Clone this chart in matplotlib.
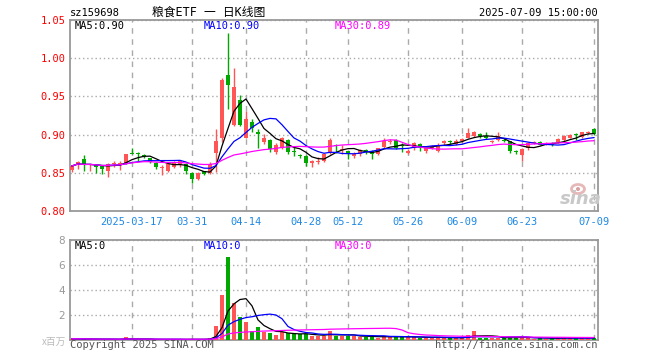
import numpy as np
import pandas as pd
import matplotlib
matplotlib.use("Agg")
import matplotlib.pyplot as plt
from matplotlib.patches import Ellipse

# trading days 2025-03-03 .. 2025-07-09 (exchange holidays removed)
holidays = ["2025-04-04", "2025-05-01", "2025-05-02", "2025-05-05", "2025-06-02"]
dates = pd.bdate_range("2025-03-03", "2025-07-09")
dates = dates[~dates.isin(pd.to_datetime(holidays))]

tick_dates = ["2025-03-17", "2025-03-31", "2025-04-14", "2025-04-28", "2025-05-12",
              "2025-05-26", "2025-06-09", "2025-06-23", "2025-07-09"]
tick_labels = ["2025-03-17", "03-31", "04-14", "04-28", "05-12",
               "05-26", "06-09", "06-23", "07-09"]

opens = [0.854, 0.862, 0.868, 0.860, 0.860, 0.859, 0.853, 0.861, 0.862, 0.862,
         0.876, 0.876, 0.873, 0.869, 0.863, 0.856, 0.852, 0.858, 0.862, 0.862,
         0.850, 0.842, 0.852, 0.850, 0.876, 0.895, 0.978, 0.913, 0.945, 0.896,
         0.916, 0.904, 0.890, 0.893, 0.877, 0.883, 0.893, 0.878, 0.873, 0.872,
         0.863, 0.864, 0.866, 0.876, 0.887, 0.880, 0.878, 0.872, 0.875, 0.879,
         0.879, 0.874, 0.884, 0.890, 0.893, 0.886, 0.876, 0.883, 0.888, 0.879,
         0.883, 0.879, 0.889, 0.892, 0.888, 0.891, 0.896, 0.898, 0.901, 0.898,
         0.890, 0.893, 0.893, 0.891, 0.878, 0.873, 0.883, 0.889, 0.890, 0.888,
         0.889, 0.890, 0.893, 0.896, 0.900, 0.897, 0.902, 0.907]
highs = [0.860, 0.866, 0.873, 0.862, 0.861, 0.860, 0.863, 0.866, 0.865, 0.875,
         0.882, 0.877, 0.875, 0.870, 0.864, 0.860, 0.862, 0.866, 0.866, 0.863,
         0.851, 0.851, 0.853, 0.864, 0.907, 0.974, 1.033, 0.987, 0.952, 0.931,
         0.920, 0.907, 0.901, 0.894, 0.889, 0.897, 0.894, 0.884, 0.875, 0.873,
         0.867, 0.871, 0.876, 0.895, 0.888, 0.887, 0.879, 0.877, 0.881, 0.881,
         0.880, 0.883, 0.896, 0.894, 0.894, 0.889, 0.881, 0.890, 0.889, 0.883,
         0.887, 0.889, 0.893, 0.893, 0.894, 0.896, 0.908, 0.905, 0.902, 0.903,
         0.893, 0.903, 0.896, 0.892, 0.880, 0.883, 0.890, 0.891, 0.891, 0.890,
         0.890, 0.895, 0.899, 0.901, 0.902, 0.904, 0.905, 0.908]
lows = [0.851, 0.855, 0.852, 0.853, 0.850, 0.849, 0.844, 0.857, 0.854, 0.861,
        0.874, 0.866, 0.869, 0.863, 0.855, 0.847, 0.851, 0.856, 0.857, 0.848,
        0.837, 0.841, 0.847, 0.849, 0.851, 0.890, 0.933, 0.911, 0.911, 0.895,
        0.904, 0.882, 0.888, 0.877, 0.874, 0.881, 0.875, 0.872, 0.869, 0.859,
        0.857, 0.862, 0.864, 0.874, 0.876, 0.875, 0.868, 0.870, 0.872, 0.875,
        0.868, 0.873, 0.883, 0.888, 0.881, 0.877, 0.874, 0.880, 0.879, 0.876,
        0.881, 0.877, 0.887, 0.888, 0.887, 0.890, 0.895, 0.897, 0.895, 0.894,
        0.889, 0.892, 0.890, 0.876, 0.875, 0.866, 0.880, 0.888, 0.886, 0.887,
        0.885, 0.889, 0.892, 0.895, 0.893, 0.896, 0.901, 0.900]
closes = [0.859, 0.864, 0.860, 0.861, 0.858, 0.855, 0.861, 0.863, 0.863, 0.874,
          0.875, 0.874, 0.872, 0.864, 0.857, 0.857, 0.861, 0.864, 0.865, 0.852,
          0.842, 0.850, 0.849, 0.862, 0.892, 0.972, 0.965, 0.962, 0.913, 0.921,
          0.909, 0.901, 0.896, 0.881, 0.886, 0.895, 0.877, 0.877, 0.872, 0.863,
          0.865, 0.866, 0.874, 0.893, 0.885, 0.881, 0.875, 0.875, 0.880, 0.878,
          0.875, 0.882, 0.891, 0.892, 0.883, 0.885, 0.879, 0.889, 0.884, 0.882,
          0.885, 0.887, 0.892, 0.890, 0.891, 0.894, 0.902, 0.903, 0.898, 0.895,
          0.891, 0.898, 0.892, 0.878, 0.877, 0.881, 0.889, 0.890, 0.887, 0.889,
          0.886, 0.894, 0.898, 0.900, 0.899, 0.903, 0.904, 0.901]
# volume in millions of shares
volumes = [0.10, 0.08, 0.09, 0.05, 0.05, 0.06, 0.07, 0.05, 0.04, 0.21,
           0.08, 0.04, 0.03, 0.04, 0.05, 0.04, 0.05, 0.04, 0.04, 0.06,
           0.07, 0.05, 0.04, 0.13, 1.12, 3.60, 6.67, 2.93, 1.87, 1.47,
           0.72, 1.07, 0.67, 0.59, 0.40, 0.61, 0.53, 0.45, 0.45, 0.48,
           0.35, 0.32, 0.32, 0.72, 0.35, 0.33, 0.33, 0.32, 0.27, 0.27,
           0.27, 0.20, 0.30, 0.25, 0.30, 0.22, 0.22, 0.25, 0.20, 0.18,
           0.18, 0.22, 0.20, 0.15, 0.15, 0.18, 0.40, 0.72, 0.20, 0.18,
           0.15, 0.20, 0.15, 0.25, 0.18, 0.22, 0.18, 0.12, 0.15, 0.12,
           0.15, 0.15, 0.18, 0.15, 0.15, 0.18, 0.15, 0.20]

RED = "#ff5555"
GREEN = "#00a800"
MA_COLORS = {5: "black", 10: "#0000ff", 30: "#ff00ff"}
GRID = "#aaaaaa"
MONO = ["DejaVu Sans Mono", "Noto Sans CJK SC"]

df = pd.DataFrame({"open": opens, "high": highs, "low": lows,
                   "close": closes, "vol": volumes}, index=dates)
x = np.arange(len(df))
up = df["close"] >= df["open"]
colors = np.where(up, RED, GREEN)
ticks = [dates.get_loc(pd.Timestamp(d)) for d in tick_dates]

W, H = 660, 360
fig = plt.figure(figsize=(W / 100, H / 100), dpi=100)
ax = fig.add_axes([70 / W, 1 - 211 / H, 528 / W, 191 / H])
axv = fig.add_axes([70 / W, 1 - 340 / H, 528 / W, 100 / H])


def style_axes(a):
    for s in a.spines.values():
        s.set_color("#999999")
        s.set_linewidth(1.3)
    a.tick_params(length=0)
    a.set_xlim(-0.33, len(df) - 0.33)
    a.set_xticks(ticks)
    a.grid(axis="x", color=GRID, linestyle=(0, (4, 4)), linewidth=1)
    a.grid(axis="y", color=GRID, linestyle=(0, (1, 2)), linewidth=1)
    a.set_axisbelow(True)


# price panel
style_axes(ax)
body = np.maximum((df["close"] - df["open"]).abs(), 0.0012)
ax.vlines(x, df["low"], df["high"], colors=colors, linewidth=1, zorder=2)
ax.bar(x, body, bottom=np.minimum(df["open"], df["close"]), width=0.75,
       color=colors, zorder=3)
for n, c in MA_COLORS.items():
    ma = df["close"].rolling(n, min_periods=1).mean()
    ax.plot(x, ma, color=c, linewidth=0.9, zorder=4)
ax.set_ylim(0.80, 1.05)
price_ticks = [0.80, 0.85, 0.90, 0.95, 1.00, 1.05]
ax.set_yticks(price_ticks)
ax.set_yticklabels([f"{v:.2f}" for v in price_ticks],
                   family=MONO, fontsize=7.5, color="red")
ax.set_xticklabels(tick_labels, family=MONO, fontsize=7.5, color="#1e88e5")
ax.tick_params(axis="y", pad=3)
ax.tick_params(axis="x", pad=4)

ma5 = df["close"].rolling(5).mean().iloc[-1]
ma10 = df["close"].rolling(10).mean().iloc[-1]
ma30 = df["close"].rolling(30).mean().iloc[-1]

# volume panel
style_axes(axv)
axv.bar(x, df["vol"], width=0.75, color=colors, zorder=3)
for n, c in MA_COLORS.items():
    axv.plot(x, df["vol"].rolling(n, min_periods=1).mean(), color=c,
             linewidth=0.9, zorder=4)
axv.set_ylim(0, 8)
axv.set_yticks([2, 4, 6, 8])
axv.set_yticklabels(["2", "4", "6", "8"], fontsize=7.5, color="#999999")
axv.set_xticklabels([])


def ftext(px, py, s, size=7.5, **kw):
    fig.text(px / W, 1 - py / H, s, family=MONO, fontsize=size, va="center", **kw)


ftext(70, 13, "sz159698")
ftext(209, 12.5, "粮食ETF 一 日K线图", ha="center", size=8.5)
ftext(598, 13, "2025-07-09 15:00:00", ha="right")
ftext(75, 26, f"MA5:{ma5:.2f}")
ftext(204, 26, f"MA10:{ma10:.2f}", color=MA_COLORS[10])
ftext(335, 26, f"MA30:{ma30:.2f}", color=MA_COLORS[30])
ftext(75, 246, "MA5:0")
ftext(204, 246, "MA10:0", color=MA_COLORS[10])
ftext(335, 246, "MA30:0", color=MA_COLORS[30])
ftext(70, 345, "Copyright 2025 SINA.COM", color="#555555")
ftext(598, 345, "http://finance.sina.com.cn", ha="right", color="#555555")
fig.text(66 / W, 1 - 342 / H, "x百万", family=["Noto Sans CJK SC"], fontsize=7,
         color="#bbbbbb", ha="right", va="center")

# sina watermark
fig.text(581 / W, 1 - 199 / H, "sina", fontsize=13, fontweight="bold",
         fontstyle="italic", color="#c8c8c8", ha="center", va="center")
fig.patches.append(Ellipse((578 / W, 1 - 189 / H), 13 / W, 9 / H,
                           transform=fig.transFigure, facecolor="none",
                           edgecolor="#e6b8b8", linewidth=2))
fig.patches.append(Ellipse((578 / W, 1 - 189 / H), 4 / W, 4 / H,
                           transform=fig.transFigure, facecolor="#d8a0a0",
                           edgecolor="none"))

fig.savefig("out.png", dpi=100)
